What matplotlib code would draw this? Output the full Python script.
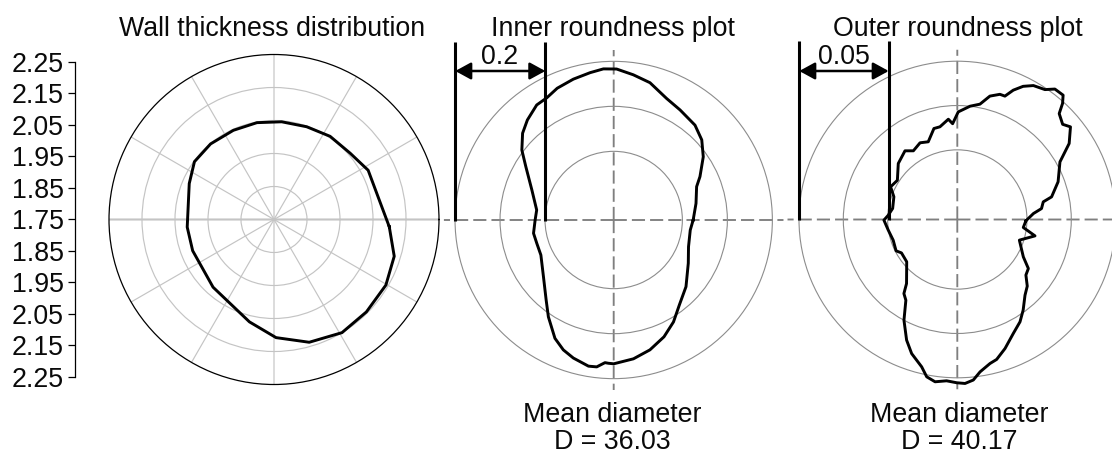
import numpy as np
import matplotlib
matplotlib.use("Agg")
import matplotlib.pyplot as plt
from matplotlib.lines import Line2D
from matplotlib.patches import FancyArrowPatch

plt.rcParams['font.family'] = ['Liberation Sans', 'DejaVu Sans']

# --- data -------------------------------------------------------------
titles = ["Wall thickness distribution", "Inner roundness plot", "Outer roundness plot"]
scale_labels = ["2.25", "2.15", "2.05", "1.95", "1.85", "1.75", "1.85", "1.95", "2.05", "2.15", "2.25"]
wall_rings = [1.85, 1.95, 2.05, 2.15]
inner_rings = [-0.1, 0.0, 0.1]
outer_rings = [-0.025, 0.0, 0.025]
inner_span = "0.2"
outer_span = "0.05"
inner_diameter = "D = 36.03"
outer_diameter = "D = 40.17"

wall_theta = [-3.6, -17, -30.4, -45, -59, -74, -89, -103.5, -132, -159, -175, 157, 144, 130,
              114.5, 100, 85.5, 70.6, 56, 41, 27.6, 12]
wall_r = [2.100, 2.131, 2.143, 2.146, 2.150, 2.137, 2.108, 2.069, 2.026, 2.014, 2.014, 2.029,
          2.048, 2.049, 2.047, 2.048, 2.047, 2.048, 2.054, 2.056, 2.072, 2.073]

inner_theta = [0, -7.5, -19.7, -30.1, -42.7, -52.3, -59.6, -66.7, -74.4, -81.9, -90, -92.1, -93.5,
               -96.6, -99.8, -106.3, -111.2, -116.4, -124, -130.2, -141.1, -154.3, -163.1, -170.6,
               180, 172.6, 159.9, 148.7, 142.7, 136.4, 130.8, 123.8, 118.7, 113.2, 106, 99.1, 93.9,
               88.9, 82.3, 75.2, 66.5, 58.9, 49.4, 42.3, 35.2, 26.7, 21.9, 11.4]
inner_r = [-0.076, -0.081, -0.076, -0.061, -0.034, -0.014, 0.010, 0.030, 0.047, 0.059, 0.067, 0.066,
           0.065, 0.076, 0.077, 0.067, 0.057, 0.041, 0.007, -0.020, -0.052, -0.073, -0.074, -0.072,
           -0.078, -0.080, -0.059, -0.024, 0.004, 0.027, 0.041, 0.055, 0.057, 0.066, 0.073, 0.079,
           0.084, 0.083, 0.073, 0.063, 0.042, 0.033, 0.025, 0.012, -0.009, -0.038, -0.054, -0.066]

outer_theta = [-1.1, -6.9, -11.9, -18.4, -29.5, -34.6, -39, -43.6, -48.2, -54, -58.5, -63.8, -69.7,
               -74.3, -77.2, -81.5, -84.3, -87.3, -90.2, -93.8, -97.8, -101, -103.6, -108.8, -112.8,
               -117.9, -122.5, -125.8, -128.4, -140.1, -149.1, -152.9, -162.1, -171.2, -179.5, 176.4,
               175, 170.3, 160.3, 153.9, 146.8, 136.5, 127.3, 122.6, 115.9, 110.5, 104.4, 100.6, 95.1,
               92.8, 89.5, 83.6, 78.9, 75.2, 71.2, 68.9, 66.6, 63.7, 60.4, 56, 53.2, 49.6, 47.8, 46.1,
               42.1, 39.3, 34.2, 29.3, 20.5, 13.5, 11.6, 7.4, 4.5]
outer_r = [-0.0256, -0.0268, -0.0195, -0.0274, -0.0215, -0.0156, -0.0145, -0.0098, -0.0070, -0.0011,
           0.0034, 0.0073, 0.0133, 0.0177, 0.0190, 0.0226, 0.0267, 0.0283, 0.0278, 0.0269, 0.0281,
           0.0261, 0.0212, 0.0156, 0.0095, 0.0, -0.0103, -0.0128, -0.0182, -0.0271, -0.0276, -0.0255,
           -0.0263, -0.0249, -0.0229, -0.0253, -0.0258, -0.0273, -0.0263, -0.0224, -0.0239, -0.0184,
           -0.0156, -0.0183, -0.0162, -0.0175, -0.0113, -0.0111, -0.0075, -0.0102, -0.0036, 0.0, 0.0020,
           0.0077, 0.0103, 0.0103, 0.0152, 0.0195, 0.0226, 0.0241, 0.0276, 0.0278, 0.0241, 0.0186,
           0.0158, 0.0182, 0.0120, 0.0021, -0.0036, -0.0096, -0.0148, -0.0164, -0.0212]

# --- layout -----------------------------------------------------------
W, H = 1112, 455
fig = plt.figure(figsize=(W / 100, H / 100), dpi=100, facecolor="white")
FS = 19.3


def fx(x):
    return x / W


def fy(y):
    return 1 - y / H


def polar_axes(cx, cy, rad):
    ax = fig.add_axes([fx(cx - rad), fy(cy + rad), 2 * rad / W, 2 * rad / H], projection="polar")
    ax.patch.set_visible(False)
    ax.tick_params(length=0, labelbottom=False, labelleft=False)
    return ax


def closed(theta, r):
    t = np.deg2rad(np.asarray(theta + theta[:1], dtype=float))
    return t, np.asarray(r + r[:1], dtype=float)


def label(x, y, s, **kw):
    fig.text(fx(x), fy(y), s, fontsize=kw.pop("fontsize", FS), ha=kw.pop("ha", "center"),
             va="baseline", color="#0a0a0a", **kw)


def unsnap(axis):
    for g in axis.get_gridlines():
        g.set_snap(False)


# wall thickness panel
ax = polar_axes(274, 219.5, 165)
ax.set_ylim(1.75, 2.25)
ax.set_xticks(np.deg2rad(np.arange(0, 360, 30)))
ax.set_yticks(wall_rings)
ax.grid(True, color="#c4c4c4", lw=0.85)
ax.tick_params(labelbottom=False, labelleft=False)
for i, g in enumerate(ax.xaxis.get_gridlines()):
    if i in (0, 6):
        g.set_linewidth(1.5)
unsnap(ax.xaxis)
ax.spines["polar"].set_color("black")
ax.spines["polar"].set_linewidth(0.9)
t, r = closed(wall_theta, wall_r)
ax.plot(t, r, color="black", lw=2.1, zorder=5)

# scale axis to the left of the wall panel
sc = fig.add_axes([fx(74.7), fy(376.7), 0.001, 315 / H])
sc.patch.set_visible(False)
for s in ("top", "right", "bottom"):
    sc.spines[s].set_visible(False)
sc.spines["left"].set_linewidth(0.9)
sc.set_xticks([])
sc.set_ylim(0, len(scale_labels) - 1)
sc.set_yticks(range(len(scale_labels)))
sc.set_yticklabels(scale_labels[::-1], fontsize=FS, color="#0a0a0a", va="center_baseline")
sc.tick_params(axis="y", length=5.3, width=0.9, pad=2.5)


# roundness panels
def roundness(cx, cy, rad, rmin, rmax, rings, theta, rr):
    a = polar_axes(cx, cy, rad)
    a.set_ylim(rmin, rmax)
    a.set_xticks(np.deg2rad([0, 90, 180, 270]))
    a.set_yticks(rings)
    a.tick_params(labelbottom=False, labelleft=False)
    a.xaxis.grid(True, color="#7f7f7f", lw=1.35, linestyle=(0, (7, 2.7)))
    a.yaxis.grid(True, color="#8c8c8c", lw=0.8, linestyle="-")
    unsnap(a.xaxis)
    a.spines["polar"].set_visible(False)
    tt, vv = closed(theta, rr)
    a.plot(tt, vv, color="black", lw=2.1, zorder=5)
    return a


roundness(613.7, 220, 170, -0.2526, 0.1252, inner_rings, inner_theta, inner_r)
roundness(957.3, 219.5, 170, -0.0643, 0.0316, outer_rings, outer_theta, outer_r)


# dimension marks
def dim(x0, x1, top, bottom, ya, text, tx):
    for x in (x0, x1):
        fig.add_artist(Line2D([fx(x), fx(x)], [fy(top), fy(bottom)], color="black", lw=2.2,
                              transform=fig.transFigure, solid_capstyle="butt"))
    fig.add_artist(FancyArrowPatch((fx(x0), fy(ya)), (fx(x1), fy(ya)), transform=fig.transFigure,
                                   arrowstyle="<|-|>,head_length=9.5,head_width=5.2", color="black",
                                   lw=1.8, shrinkA=0, shrinkB=0, mutation_scale=1))
    label(tx, 63.5, text)


dim(455.3, 545.3, 42, 221, 71, inner_span, 499.3)
dim(799.3, 888.7, 41, 220, 71, outer_span, 844)

# text
for x, s in zip((272, 613, 957.7), titles):
    label(x, 36.5, s)
label(612.7, 421.7, "Mean diameter")
label(612.7, 449, inner_diameter)
label(959, 421.7, "Mean diameter")
label(959, 449, outer_diameter)

fig.savefig("out.png", dpi=100)
